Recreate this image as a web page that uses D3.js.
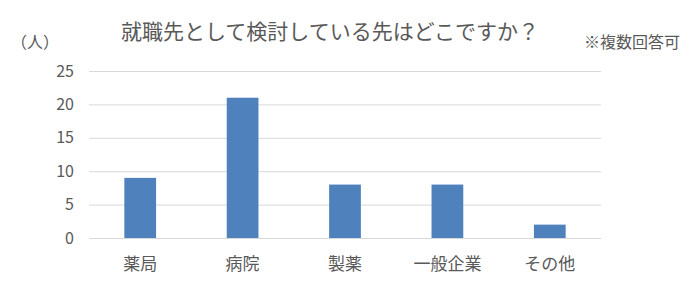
<!DOCTYPE html>
<html>
<head>
<meta charset="utf-8">
<script src="https://cdn.jsdelivr.net/npm/d3@7"></script>
<style>
  body { margin: 0; background: #fff; }
  svg { display: block; font-family: "Noto Sans CJK JP", sans-serif; }
  .grid line { stroke: #d9d9d9; }
  .grid path { display: none; }
</style>
</head>
<body>
<svg id="chart" width="696" height="289"></svg>
<script>
const categories = ['薬局', '病院', '製薬', '一般企業', 'その他'];
const counts = [9, 21, 8, 8, 2];
const yTicks = [0, 5, 10, 15, 20, 25];

const svg = d3.select('#chart');
const plotLeft = 89, plotRight = 601, plotTop = 71, plotBottom = 238;

const x = d3.scaleBand()
    .domain(categories)
    .range([plotLeft, plotRight])
    .paddingInner(0.69)
    .paddingOuter(0.345);

const y = d3.scaleLinear()
    .domain([0, 25])
    .range([plotBottom, plotTop]);

// horizontal grid lines
svg.append('g')
    .attr('class', 'grid')
    .attr('transform', `translate(${plotLeft},0)`)
    .call(d3.axisLeft(y).tickValues(yTicks).tickSize(-(plotRight - plotLeft)).tickFormat(''));

// y tick labels
svg.append('g')
    .selectAll('text')
    .data(yTicks)
    .enter()
    .append('text')
    .attr('x', 74)
    .attr('y', (d) => y(d))
    .attr('dy', '0.35em')
    .attr('text-anchor', 'end')
    .attr('fill', '#595959')
    .style('font-size', '16px')
    .text((d) => d);

svg.append('g')
    .selectAll('rect')
    .data(counts)
    .enter()
    .append('rect')
    .attr('x', (d, i) => x(categories[i]))
    .attr('y', (d) => y(d))
    .attr('width', x.bandwidth())
    .attr('height', (d) => plotBottom - y(d))
    .attr('fill', '#4f81bd');

// category labels
svg.append('g')
    .selectAll('text')
    .data(categories)
    .enter()
    .append('text')
    .attr('x', (d) => x(d) + x.bandwidth() / 2)
    .attr('y', 264)
    .attr('dy', '0.35em')
    .attr('text-anchor', 'middle')
    .attr('fill', '#595959')
    .style('font-size', '17px')
    .text((d) => d);

svg.append('text')
    .attr('x', 330)
    .attr('y', 32)
    .attr('dy', '0.35em')
    .attr('text-anchor', 'middle')
    .attr('fill', '#595959')
    .style('font-size', '21px')
    .text('就職先として検討している先はどこですか？');

svg.append('text')
    .attr('x', 35)
    .attr('y', 42)
    .attr('dy', '0.35em')
    .attr('text-anchor', 'middle')
    .attr('fill', '#595959')
    .style('font-size', '16px')
    .style('font-feature-settings', '"halt"')
    .text('（人）');

svg.append('text')
    .attr('x', 680)
    .attr('y', 42)
    .attr('dy', '0.35em')
    .attr('text-anchor', 'end')
    .attr('fill', '#595959')
    .style('font-size', '16px')
    .text('※複数回答可');
</script>
</body>
</html>
